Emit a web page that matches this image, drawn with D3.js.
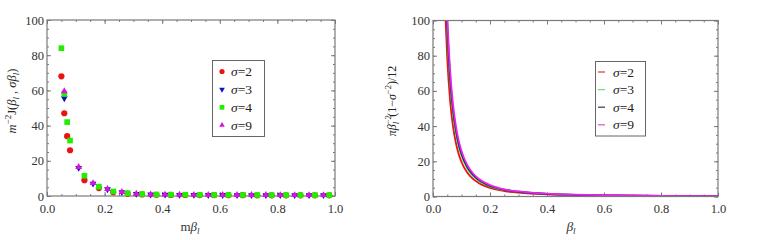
<!DOCTYPE html>
<html lang="en">
<head>
<meta charset="utf-8" />
<title>J(beta) scatter and curves</title>
<script src="https://d3js.org/d3.v7.min.js"></script>
<style>
  body { margin: 0; background: #fff; }
  svg { font-family: "Liberation Serif", "DejaVu Serif", serif; }
  .tick text { fill: #333; }
  .frame { fill: none; stroke: #7a7a7a; stroke-width: 1.2; }
  .axis path { display: none; }
  .axis line { stroke: #7a7a7a; }
</style>
</head>
<body>
<script>
// ---- data ----
const sigmas = ["2", "3", "4", "9"];

// left panel: x positions of markers
const xA = [0.05, 0.06, 0.07, 0.08, 0.13, 0.18, 0.23, 0.28, 0.33, 0.38, 0.43, 0.48, 0.53, 0.58, 0.63, 0.68, 0.73, 0.78, 0.83, 0.88, 0.93, 0.98];
const xB = [0.06, 0.11, 0.16, 0.21, 0.26, 0.31, 0.36, 0.41, 0.46, 0.51, 0.56, 0.61, 0.66, 0.71, 0.76, 0.81, 0.86, 0.91, 0.96];

const jSigma2 = [68, 47, 34, 26, 9, 4.5, 2.2, 1.3, 0.9, 0.7, 0.6, 0.55, 0.5, 0.5, 0.45, 0.45, 0.4, 0.4, 0.4, 0.4, 0.4, 0.4];
const jSigma3 = [55.5, 16, 7.0, 3.8, 2.2, 1.2, 0.85, 0.75, 0.65, 0.6, 0.55, 0.55, 0.5, 0.5, 0.5, 0.5, 0.5, 0.5, 0.5];
const jSigma4 = [84, 58, 42, 31.5, 11.5, 5.3, 2.6, 1.6, 1.1, 0.85, 0.75, 0.7, 0.65, 0.6, 0.6, 0.55, 0.55, 0.5, 0.5, 0.5, 0.5, 0.5];
const jSigma9 = [59.5, 16.5, 7.3, 4.0, 2.3, 1.3, 0.9, 0.8, 0.7, 0.65, 0.6, 0.6, 0.55, 0.55, 0.55, 0.5, 0.5, 0.5, 0.5];

// right panel: curve samples
const beta = [0.04, 0.045, 0.05, 0.06, 0.07, 0.08, 0.09, 0.1, 0.12, 0.14, 0.16, 0.2, 0.25, 0.3, 0.4, 0.5, 0.6, 0.8, 1.0];
const cSigma2 = [123, 97, 78.5, 54.5, 40, 30.7, 24.2, 19.6, 13.6, 10.0, 7.7, 4.9, 3.1, 2.2, 1.2, 0.8, 0.55, 0.3, 0.2];
const cSigma3 = [145, 115, 93, 64.6, 47.5, 36.4, 28.7, 23.3, 16.2, 11.9, 9.1, 5.8, 3.7, 2.6, 1.45, 0.93, 0.65, 0.36, 0.23];
const cSigma4 = [153, 121, 98, 68, 50, 38.4, 30.3, 24.5, 17.0, 12.5, 9.6, 6.1, 3.9, 2.7, 1.5, 0.98, 0.68, 0.38, 0.25];
const cSigma9 = [162, 128, 103, 71.8, 52.8, 40.4, 31.9, 25.9, 18.0, 13.2, 10.1, 6.5, 4.1, 2.9, 1.6, 1.03, 0.72, 0.4, 0.26];

const xTicks = [0, 0.2, 0.4, 0.6, 0.8, 1.0];
const yTicks = [0, 20, 40, 60, 80, 100];

const markerColors = ["#ee1111", "#1111bb", "#22ee00", "#dd11dd"];
const lineColors = ["#ee1111", "#22cc33", "#1c1c70", "#ee22ee"];
const legendLineColors = ["#d44", "#7d7", "#446", "#c6c"];

const svg = d3.select("body").append("svg").attr("width", 763).attr("height", 240);

function panel(left, right, top, bottom) {
  const x = d3.scaleLinear().domain([0, 1]).range([left, right]);
  const y = d3.scaleLinear().domain([0, 100]).range([bottom, top]);
  const g = svg.append("g");
  const minorX = d3.range(0, 1.0001, 0.05);
  const minorY = d3.range(0, 100.001, 5);
  const add = (t, axis) => g.append("g").attr("class", "axis").attr("transform", t)
    .call(axis).attr("font-family", "Liberation Serif, serif").attr("font-size", 12.5);
  // bottom + top
  add(`translate(0,${bottom})`, d3.axisBottom(x).tickValues(minorX).tickSize(-2).tickFormat(""));
  add(`translate(0,${bottom})`, d3.axisBottom(x).tickValues(xTicks).tickSize(-4).tickPadding(8).tickFormat(d3.format(".1f")));
  add(`translate(0,${top})`, d3.axisTop(x).tickValues(minorX).tickSize(-2).tickFormat(""));
  add(`translate(0,${top})`, d3.axisTop(x).tickValues(xTicks).tickSize(-4).tickFormat(""));
  // left + right
  add(`translate(${left},0)`, d3.axisLeft(y).tickValues(minorY).tickSize(-2).tickFormat(""));
  add(`translate(${left},0)`, d3.axisLeft(y).tickValues(yTicks).tickSize(-4).tickPadding(3));
  add(`translate(${right},0)`, d3.axisRight(y).tickValues(minorY).tickSize(-2).tickFormat(""));
  add(`translate(${right},0)`, d3.axisRight(y).tickValues(yTicks).tickSize(-4).tickFormat(""));
  g.append("rect").attr("class", "frame")
    .attr("x", left).attr("y", top).attr("width", right - left).attr("height", bottom - top);
  return { x, y, g };
}

// ---------- left panel ----------
const L = panel(47, 335, 20, 196);
const symbols = [d3.symbolCircle, d3.symbolTriangle, d3.symbolSquare, d3.symbolTriangle];
const sizes = [30, 20, 32, 20];
const rot = [0, 180, 0, 0];
const scatter = [
  { xs: xA, ys: jSigma2 },
  { xs: xB, ys: jSigma3 },
  { xs: xA, ys: jSigma4 },
  { xs: xB, ys: jSigma9 }
];
scatter.forEach((s, i) => {
  const pts = s.xs.map((d, k) => [d, s.ys[k]]);
  L.g.append("g").selectAll("path").data(pts).join("path")
    .attr("d", d3.symbol(symbols[i], sizes[i]))
    .attr("transform", d => `translate(${L.x(d[0])},${L.y(d[1])}) rotate(${rot[i]})`)
    .attr("fill", markerColors[i]);
});

// left legend
const lg = svg.append("g");
lg.append("rect").attr("x", 212.5).attr("y", 60.5).attr("width", 52).attr("height", 76)
  .attr("fill", "#fff").attr("stroke", "#666").attr("stroke-width", 1);
sigmas.forEach((s, i) => {
  const yy = 71.5 + i * 17.9;
  lg.append("path").attr("d", d3.symbol(symbols[i], sizes[i] * 0.7))
    .attr("transform", `translate(222,${yy}) rotate(${rot[i]})`).attr("fill", markerColors[i]);
  const t = lg.append("text").attr("x", 231).attr("y", yy + 4.5).attr("font-size", 13.5).attr("fill", "#222");
  t.append("tspan").attr("font-style", "italic").text("σ");
  t.append("tspan").text("=" + s);
});

// left axis titles
const ly = svg.append("text").attr("transform", "translate(16,101) rotate(-90)")
  .attr("text-anchor", "middle").attr("font-size", 12.5).attr("fill", "#222");
ly.append("tspan").attr("font-style", "italic").text("m");
ly.append("tspan").attr("dy", -5).attr("font-size", 9).text("−2");
ly.append("tspan").attr("dy", 5).text("J(");
ly.append("tspan").attr("font-style", "italic").text("β");
ly.append("tspan").attr("dy", 3).attr("font-size", 9).attr("font-style", "italic").text("l");
ly.append("tspan").attr("dy", -3).text(" , ");
ly.append("tspan").attr("font-style", "italic").text("σβ");
ly.append("tspan").attr("dy", 3).attr("font-size", 9).attr("font-style", "italic").text("l");
ly.append("tspan").attr("dy", -3).text(")");

const lx = svg.append("text").attr("x", 190).attr("y", 231).attr("text-anchor", "middle")
  .attr("font-size", 13).attr("fill", "#333");
lx.append("tspan").text("m");
lx.append("tspan").attr("font-style", "italic").text("β");
lx.append("tspan").attr("dy", 3).attr("font-size", 9).attr("font-style", "italic").text("l");

// ---------- right panel ----------
const R = panel(433, 718, 20.5, 196.5);
svg.append("clipPath").attr("id", "clipR").append("rect")
  .attr("x", 433).attr("y", 20.5).attr("width", 285).attr("height", 176);
const curves = [cSigma2, cSigma3, cSigma4, cSigma9];
const line = d3.line().x(d => R.x(d[0])).y(d => R.y(d[1])).curve(d3.curveMonotoneX);
const cg = R.g.insert("g", "rect.frame").attr("clip-path", "url(#clipR)");
curves.forEach((c, i) => {
  cg.append("path").datum(beta.map((b, k) => [b, c[k]]))
    .attr("d", line).attr("fill", "none")
    .attr("stroke", lineColors[i]).attr("stroke-width", 1.8);
});

// right legend
const rg = svg.append("g");
rg.append("rect").attr("x", 595.5).attr("y", 61.5).attr("width", 50).attr("height", 74.5)
  .attr("fill", "#fff").attr("stroke", "#666").attr("stroke-width", 1);
sigmas.forEach((s, i) => {
  const yy = 72 + i * 17.6;
  rg.append("line").attr("x1", 598).attr("x2", 605).attr("y1", yy).attr("y2", yy)
    .attr("stroke", legendLineColors[i]).attr("stroke-width", 1.3);
  const t = rg.append("text").attr("x", 613).attr("y", yy + 4.5).attr("font-size", 13.5).attr("fill", "#222");
  t.append("tspan").attr("font-style", "italic").text("σ");
  t.append("tspan").text("=" + s);
});

// right axis titles
const ry = svg.append("text").attr("transform", "translate(396,101) rotate(-90)")
  .attr("text-anchor", "middle").attr("font-size", 12).attr("fill", "#222");
ry.append("tspan").attr("font-style", "italic").text("πβ");
ry.append("tspan").attr("dy", -5).attr("font-size", 8.5).text("−2");
ry.append("tspan").attr("dx", -9).attr("dy", 8).attr("font-size", 8.5).attr("font-style", "italic").text("l");
ry.append("tspan").attr("dx", 5).attr("dy", -3).text("(1−");
ry.append("tspan").attr("font-style", "italic").text("σ");
ry.append("tspan").attr("dy", -5).attr("font-size", 8.5).text("−2");
ry.append("tspan").attr("dy", 5).text(")/12");

const rx = svg.append("text").attr("x", 571).attr("y", 231).attr("text-anchor", "middle")
  .attr("font-size", 13.5).attr("fill", "#333");
rx.append("tspan").attr("font-style", "italic").text("β");
rx.append("tspan").attr("dy", 3).attr("font-size", 9).attr("font-style", "italic").text("l");
</script>
</body>
</html>
